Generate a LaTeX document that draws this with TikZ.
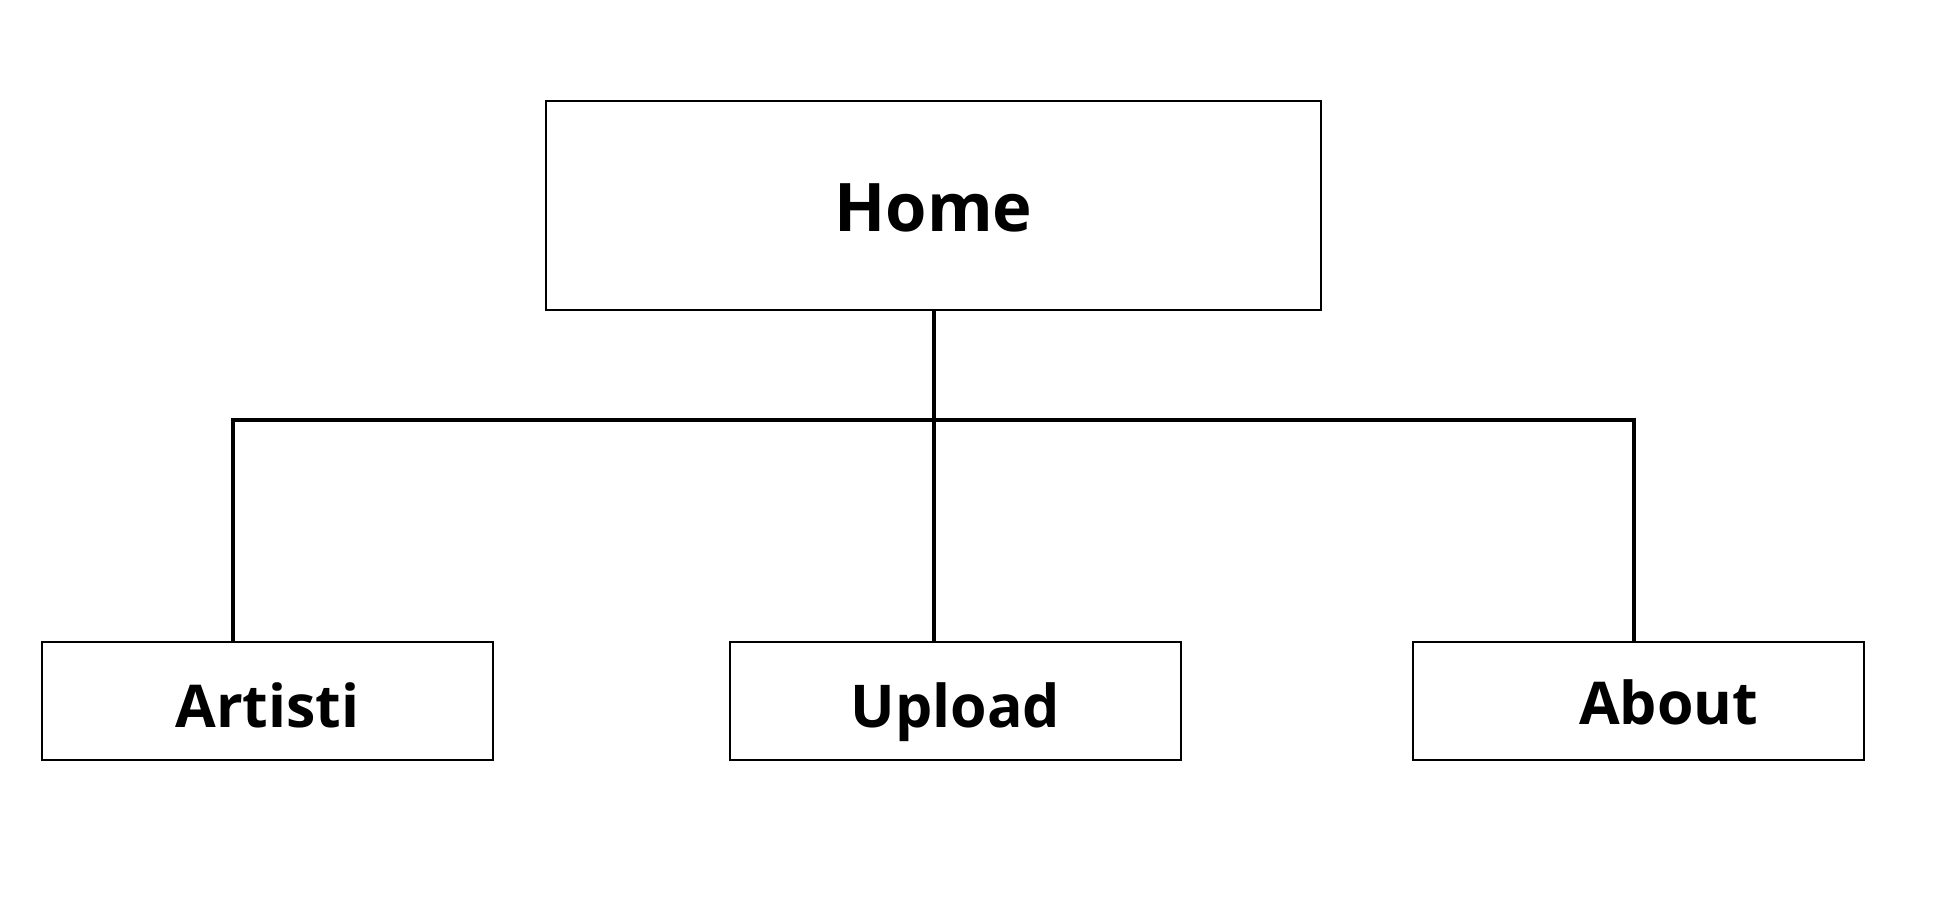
\documentclass[tikz,border=0pt]{standalone}
\usepackage{fontspec}
\setmainfont{Open Sans}
\begin{document}
\begin{tikzpicture}[x=1pt,y=-1pt,
  pagebox/.style={draw=black, line width=2pt, inner sep=0pt, outer sep=0pt,
    font=\fontsize{59}{68}\selectfont\bfseries, text depth=0pt},
  conn/.style={draw=black, line width=4pt}]
\useasboundingbox (0,0) rectangle (1933,904);
\fill[white] (0,0) rectangle (1933,904);
% boxes
\node[pagebox, minimum width=775pt, minimum height=209pt, text height=52.4pt,
      font=\fontsize{67}{76}\selectfont\bfseries] (home) at (933.5,205.5) {Home};
\node[pagebox, minimum width=451pt, minimum height=118pt, text height=53pt] (artisti) at (267.5,701) {Artisti};
\node[pagebox, minimum width=451pt, minimum height=118pt, text height=53pt] (upload) at (955.5,701) {Upload};
\node[pagebox, minimum width=451pt, minimum height=118pt, text height=47pt] (about) at (1638.5,701) {\hspace*{60pt}About};
% connectors
\coordinate (jl) at (233,420);
\coordinate (jr) at (1634,420);
\draw[conn] (artisti.north -| jl) -- (jl) -- (jr) -- (about.north -| jr);
\draw[conn] (home.south) -- (home.south |- upload.north);
\end{tikzpicture}
\end{document}
